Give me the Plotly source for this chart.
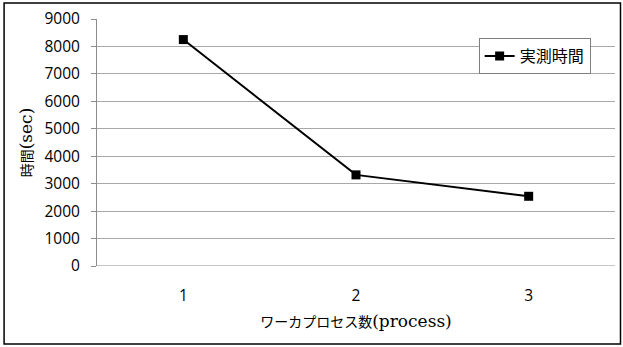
import plotly.graph_objects as go

# Worker process count vs. measured time
processes = [1, 2, 3]
measured_sec = [8250, 3320, 2540]
series_name = "実測時間"
y_ticks = [0, 1000, 2000, 3000, 4000, 5000, 6000, 7000, 8000, 9000]

W, H = 623, 347
L, R, T, B = 97, 7.5, 19, 81
pw, ph = W - L - R, H - T - B

fig = go.Figure()
fig.add_trace(go.Scatter(
    x=processes, y=measured_sec, name=series_name,
    mode="lines+markers",
    line=dict(color="black", width=2),
    marker=dict(symbol="square", size=9, color="black"),
    showlegend=True,
))

tick_font = dict(family="Open Sans, Liberation Sans, sans-serif", size=15.5, color="black")
title_font = dict(family="Noto Sans CJK JP", size=14, color="black")
legend_font = dict(family="Noto Sans CJK JP", size=16, color="black")
latin = "<span style='font-family:DejaVu Serif;font-size:17px'>{}</span>"

fig.update_layout(
    width=W, height=H,
    margin=dict(l=L, r=R, t=T, b=B),
    paper_bgcolor="white", plot_bgcolor="white",
    xaxis=dict(
        range=[0.5, 3.5], tickvals=processes, ticktext=[str(p) for p in processes],
        showgrid=False, zeroline=False, showline=False,
        ticks="", tickfont=tick_font, ticklabelstandoff=18,
        title=dict(
            text="ワーカプロセス数" + latin.format("(process)"),
            font=title_font,
            standoff=12,
        ),
    ),
    yaxis=dict(
        range=[0, 9000], tickvals=y_ticks,
        showgrid=True, gridcolor="#a8a8a8", gridwidth=1,
        zeroline=False, showline=True, linecolor="#8c8c8c", linewidth=1,
        ticks="outside", ticklen=5, tickcolor="#8c8c8c",
        tickfont=tick_font, ticklabelstandoff=8,
        title=dict(
            text="時間" + latin.format("(sec)"),
            font=title_font,
            standoff=8,
        ),
    ),
    legend=dict(
        x=(479 - L) / pw, y=(H - B - 38) / ph, xanchor="left", yanchor="top",
        bgcolor="white", bordercolor="#7f7f7f", borderwidth=1,
        font=legend_font,
        itemwidth=30,
    ),
)

# baseline along the x axis
fig.add_shape(type="line", xref="paper", yref="y", x0=0, x1=1, y0=0, y1=0,
              line=dict(color="#8c8c8c", width=1), layer="above")

# outer frame around the whole chart
fig.add_shape(type="rect", xref="paper", yref="paper",
              x0=(4 - L) / pw, x1=(621 - L) / pw,
              y0=(H - B - 344) / ph, y1=(H - B - 3) / ph,
              line=dict(color="black", width=1.5))

fig.write_html("out.html")
